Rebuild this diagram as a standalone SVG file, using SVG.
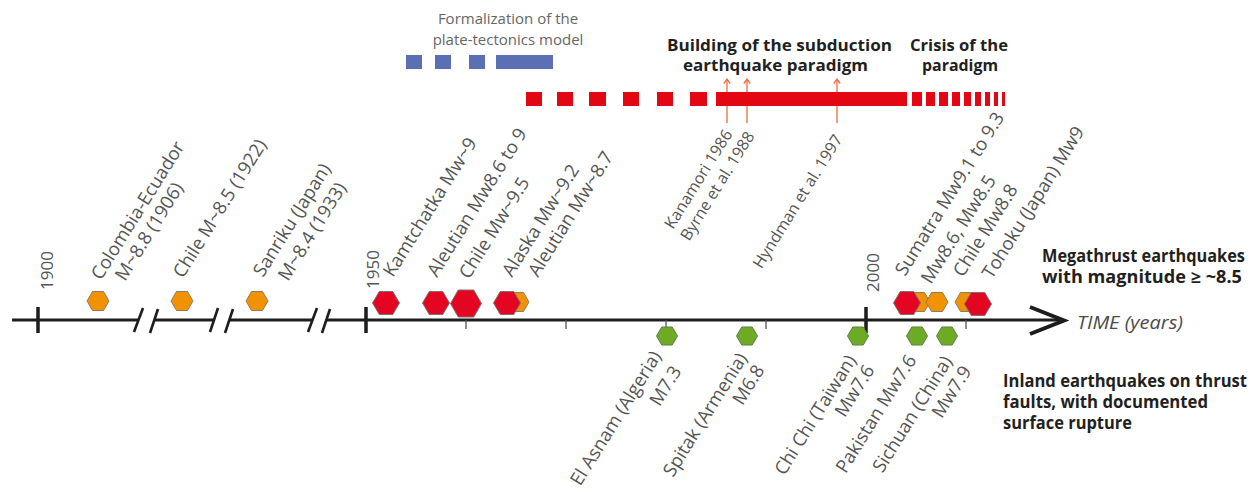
<svg xmlns="http://www.w3.org/2000/svg" width="1256" height="492" viewBox="0 0 1256 492">
<defs>
<style>
text{font-family:"Open Sans","Liberation Sans",sans-serif;}
.lb{font-size:18.5px;fill:#555;}
.yr{font-size:17px;fill:#555;}
.lt{font-size:16px;fill:#555;}
.hd{font-size:15px;fill:#666;text-anchor:middle;}
.bd{font-weight:bold;font-size:16px;fill:#231f20;}
.ax{stroke:#1d1d1b;stroke-width:3;fill:none;}
.sl{stroke:#1d1d1b;stroke-width:2.6;fill:none;}
.tk{stroke:#1d1d1b;stroke-width:3.5;fill:none;}
.mt{stroke:#555;stroke-width:1.3;fill:none;}
.ho{fill:#f39200;stroke:#8d7d66;stroke-width:1;}
.hr{fill:#e30521;stroke:#7f6f6f;stroke-width:1;}
.hg{fill:#6cab23;stroke:#5f7f4a;stroke-width:1;}
.rb{fill:#e30613;}
.bb{fill:#5b6fb4;}
.ref{stroke:#ef6a3c;stroke-width:1.3;fill:none;}
</style>
<path id="hO" d="M-11,0L-5.5,-9.5L5.5,-9.5L11,0L5.5,9.5L-5.5,9.5Z"/>
<path id="hR" d="M-13.5,0L-6.75,-11.5L6.75,-11.5L13.5,0L6.75,11.5L-6.75,11.5Z"/>
<path id="hL" d="M-15.5,0L-7.75,-13.5L7.75,-13.5L15.5,0L7.75,13.5L-7.75,13.5Z"/>
<path id="hG" d="M-10.5,0L-5.25,-9L5.25,-9L10.5,0L5.25,9L-5.25,9Z"/>
<marker id="ah" viewBox="-6 -5 8 10" refX="0" refY="0" markerWidth="8" markerHeight="10" markerUnits="userSpaceOnUse" orient="auto">
<path d="M-4.5,-3.2L0,0L-4.5,3.2" fill="none" stroke="#ef6a3c" stroke-width="1.3"/>
</marker>
</defs>

<g id="plate-tectonics">
<text class="hd" x="508" y="24">Formalization of the</text>
<text class="hd" x="508" y="45">plate-tectonics model</text>
<rect class="bb" x="406" y="55" width="16" height="14"/>
<rect class="bb" x="435" y="55" width="16" height="14"/>
<rect class="bb" x="469" y="55" width="16" height="14"/>
<rect class="bb" x="496" y="55" width="57" height="14"/>
</g>

<g id="connectors">
<line class="ref" x1="727" y1="123" x2="727" y2="79" marker-end="url(#ah)"/>
<line class="ref" x1="747" y1="123" x2="747" y2="79" marker-end="url(#ah)"/>
<line class="ref" x1="837" y1="123" x2="837" y2="79" marker-end="url(#ah)"/>
</g>

<g id="subduction-paradigm">
<text class="bd" x="667" y="51" textLength="225" lengthAdjust="spacingAndGlyphs">Building of the subduction</text>
<text class="bd" x="683" y="71" textLength="185" lengthAdjust="spacingAndGlyphs">earthquake paradigm</text>
<text class="bd" x="910" y="51" textLength="98" lengthAdjust="spacingAndGlyphs">Crisis of the</text>
<text class="bd" x="922" y="71" textLength="76" lengthAdjust="spacingAndGlyphs">paradigm</text>
<rect class="rb" x="526" y="92" width="16" height="14"/>
<rect class="rb" x="557" y="92" width="16" height="14"/>
<rect class="rb" x="589" y="92" width="17" height="14"/>
<rect class="rb" x="623" y="92" width="16" height="14"/>
<rect class="rb" x="657" y="92" width="16" height="14"/>
<rect class="rb" x="690" y="92" width="17" height="14"/>
<rect class="rb" x="716" y="92" width="191" height="14"/>
<rect class="rb" x="912" y="92" width="10" height="14"/>
<rect class="rb" x="926" y="92" width="9" height="14"/>
<rect class="rb" x="939" y="92" width="9" height="14"/>
<rect class="rb" x="952" y="92" width="8" height="14"/>
<rect class="rb" x="964" y="92" width="7" height="14"/>
<rect class="rb" x="975" y="92" width="6" height="14"/>
<rect class="rb" x="985" y="92" width="5" height="14"/>
<rect class="rb" x="994" y="92" width="4" height="14"/>
<rect class="rb" x="1002" y="92" width="3" height="14"/>
</g>

<g id="references">
<text class="lt" text-anchor="end" transform="translate(733,134) rotate(-58)">Kanamori 1986</text>
<text class="lt" text-anchor="end" transform="translate(755,136) rotate(-58)">Byrne et al. 1988</text>
<text class="lt" text-anchor="end" transform="translate(843,139) rotate(-58)">Hyndman et al. 1997</text>
</g>

<g id="axis">
<path class="ax" d="M12,320H138.5M154,320H214M229,320H312.5M326,320H1062"/>
<path class="sl" d="M134,332L143,308M150,333L158,309M210,332L218,308M225,333L233,309M308,332L317,308M322,333L330,309"/>
<path class="tk" d="M38,307V333M366,307V333M866,307V333"/>
<path class="mt" d="M466,320V329M566,320V329M666,320V329M766,320V329M966,320V329"/>
<path d="M1030,307L1064,320.5L1030,334" fill="none" stroke="#1d1d1b" stroke-width="4"/>
<text x="1077" y="329" font-family="'Liberation Sans',Arial,sans-serif" font-style="italic" font-size="19" fill="#4a4a4a" textLength="106" lengthAdjust="spacingAndGlyphs">TIME (years)</text>
<text class="yr" transform="translate(53,290) rotate(-90)">1900</text>
<text class="yr" transform="translate(379,289) rotate(-90)">1950</text>
<text class="yr" transform="translate(879,292) rotate(-90)">2000</text>
</g>

<g id="eq-colombia-1906"><use href="#hO" class="ho" x="98" y="301"/>
<text class="lb" transform="translate(101,281) rotate(-58)">Colombia-Ecuador</text>
<text class="lb" transform="translate(125,282) rotate(-58)">M~8.8 (1906)</text></g>
<g id="eq-chile-1922"><use href="#hO" class="ho" x="182" y="301"/>
<text class="lb" transform="translate(183,279) rotate(-58)">Chile M~8.5 (1922)</text></g>
<g id="eq-sanriku-1933"><use href="#hO" class="ho" x="257" y="301"/>
<text class="lb" transform="translate(263,278) rotate(-58)">Sanriku (Japan)</text>
<text class="lb" transform="translate(288,282) rotate(-58)">M~8.4 (1933)</text></g>
<g id="eq-kamchatka-1952"><use href="#hR" class="hr" x="386" y="303"/>
<text class="lb" transform="translate(393,278) rotate(-58)">Kamtchatka Mw~9</text></g>
<g id="eq-aleutian-1957"><use href="#hR" class="hr" x="436" y="303"/>
<text class="lb" transform="translate(437,278) rotate(-58)">Aleutian Mw8.6 to 9</text></g>
<g id="eq-chile-1960"><use href="#hL" class="hr" x="466" y="303.5"/>
<text class="lb" transform="translate(469,280) rotate(-58)">Chile Mw~9.5</text></g>
<g id="eq-aleutian-1965"><use href="#hO" class="ho" x="518" y="302"/>
<text class="lb" transform="translate(538,278) rotate(-58)">Aleutian Mw~8.7</text></g>
<g id="eq-alaska-1964"><use href="#hR" class="hr" x="507" y="303"/>
<text class="lb" transform="translate(512,278) rotate(-58)">Alaska Mw~9.2</text></g>

<g id="eq-nias-2005"><use href="#hO" class="ho" x="919" y="302"/></g>
<g id="eq-sumatra-2004"><use href="#hR" class="hr" x="907" y="303"/>
<text class="lb" transform="translate(905,277) rotate(-58)">Sumatra Mw9.1 to 9.3</text>
<text class="lb" transform="translate(931,285) rotate(-58)">Mw8.6, Mw8.5</text></g>
<g id="eq-sumatra-2007"><use href="#hO" class="ho" x="937" y="302"/></g>
<g id="eq-chile-2010"><use href="#hO" class="ho" x="966" y="302"/>
<text class="lb" transform="translate(963,278) rotate(-58)">Chile Mw8.8</text></g>
<g id="eq-tohoku-2011"><use href="#hR" class="hr" x="978" y="304"/>
<text class="lb" transform="translate(992,280) rotate(-58)">Tohoku (Japan) Mw9</text></g>

<g id="eq-elasnam-1980"><use href="#hG" class="hg" x="667" y="336"/>
<text class="lb" text-anchor="end" transform="translate(662,356) rotate(-58)">El Asnam (Algeria)</text>
<text class="lb" text-anchor="end" transform="translate(682,371) rotate(-58)">M7.3</text></g>
<g id="eq-spitak-1988"><use href="#hG" class="hg" x="747" y="336"/>
<text class="lb" text-anchor="end" transform="translate(748,358) rotate(-58)">Spitak (Armenia)</text>
<text class="lb" text-anchor="end" transform="translate(765,370) rotate(-58)">M6.8</text></g>
<g id="eq-chichi-1999"><use href="#hG" class="hg" x="858" y="336"/>
<text class="lb" text-anchor="end" transform="translate(857,360) rotate(-58)">Chi Chi (Taiwan)</text>
<text class="lb" text-anchor="end" transform="translate(875,370) rotate(-58)">Mw7.6</text></g>
<g id="eq-pakistan-2005"><use href="#hG" class="hg" x="917" y="336"/>
<text class="lb" text-anchor="end" transform="translate(917,360) rotate(-58)">Pakistan Mw7.6</text></g>
<g id="eq-sichuan-2008"><use href="#hG" class="hg" x="947" y="336"/>
<text class="lb" text-anchor="end" transform="translate(953,361) rotate(-58)">Sichuan (China)</text>
<text class="lb" text-anchor="end" transform="translate(972,371) rotate(-58)">Mw7.9</text></g>

<g id="legend-megathrust">
<text class="bd" x="1042" y="262" font-size="17" style="font-size:17px" textLength="203" lengthAdjust="spacingAndGlyphs">Megathrust earthquakes</text>
<text class="bd" x="1042" y="283" style="font-size:17px" textLength="200" lengthAdjust="spacingAndGlyphs">with magnitude ≥ ~8.5</text>
</g>
<g id="legend-inland">
<text class="bd" x="1003" y="387" style="font-size:17px" textLength="244" lengthAdjust="spacingAndGlyphs">Inland earthquakes on thrust</text>
<text class="bd" x="1003" y="408" style="font-size:17px" textLength="205" lengthAdjust="spacingAndGlyphs">faults, with documented</text>
<text class="bd" x="1003" y="429" style="font-size:17px" textLength="129" lengthAdjust="spacingAndGlyphs">surface rupture</text>
</g>
</svg>
